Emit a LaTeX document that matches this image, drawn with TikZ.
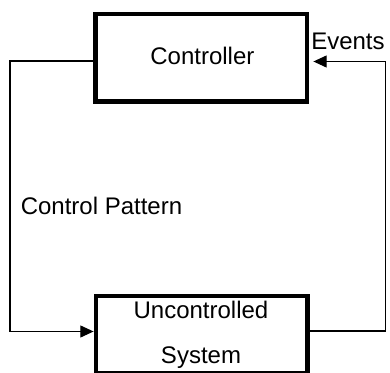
\documentclass[tikz,border=0pt]{standalone}
\usepackage{fontspec}
\setmainfont{Liberation Sans}
\usetikzlibrary{arrows.meta}
\begin{document}
\begin{tikzpicture}[x=0.75pt,y=-0.75pt,
  block/.style={draw,line width=3.4pt,minimum width=158.6pt,minimum height=65.5pt,inner sep=0pt},
  wire/.style={line width=1pt},
  lbl/.style={inner sep=0pt,font=\fontsize{18}{21.6}\selectfont},
  tip/.style={-{Triangle[length=10pt,width=9pt]}}]
\useasboundingbox (0,0) rectangle (390,373);
% the two blocks
\node[block] (ctrl) at (201.4,57.85) {};
\node[lbl,anchor=base] (ctrltext) at (202.4,65) {Controller};
\node[block,minimum height=57.9pt] (sys) at (201.6,334.4) {};
\node[lbl,anchor=base] (sys1) at (201,318.3) {Uncontrolled};
\node[lbl,anchor=base] (sys2) at (201,364) {System};
% connector labels
\node[lbl,anchor=base west] (ev) at (311,49.3) {Events};
\node[lbl,anchor=base west] (cp) at (20.5,215) {Control Pattern};
% corners of the feedback loop
\coordinate (tl) at (10,61);
\coordinate (bl) at (10,331.5);
\coordinate (tr) at (385.5,61.5);
\coordinate (br) at (385.5,331);
\draw[wire,tip] (ctrl.west |- tl) -- (tl) -- (bl) -- (sys.west |- bl);
\draw[wire,tip,shorten >=3pt] (sys.east |- br) -- (br) -- (tr) -- (ctrl.east |- tr);
\end{tikzpicture}
\end{document}
